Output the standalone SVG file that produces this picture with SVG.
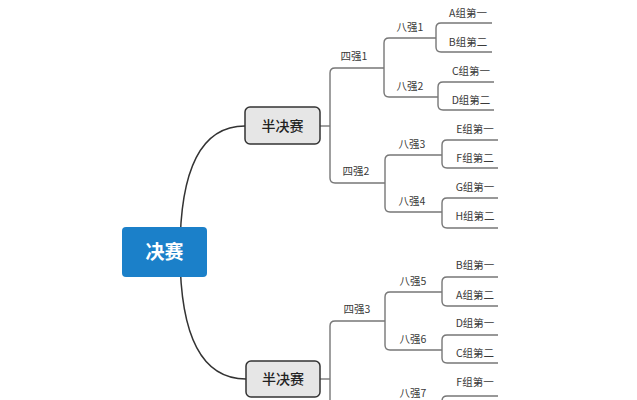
<svg xmlns="http://www.w3.org/2000/svg" width="637" height="400" viewBox="0 0 637 400">
<style>
.c{fill:none;stroke:#333;stroke-width:1.5}
.b{fill:none;stroke:#777;stroke-width:1.4}
.t{font-family:"Noto Sans CJK SC","Noto Sans",sans-serif;fill:#3a3a3a;text-anchor:middle}
.s{font-size:10.5px}
.m{font-size:14px;fill:#222;font-weight:500}
.r{font-size:19px;fill:#fff;font-weight:bold}
</style>
<rect width="637" height="400" fill="#fff"/>
<g id="connectors">
<path class="c" d="M180 252 Q180 126 245 126"/>
<path class="c" d="M180 252 Q180 379 246 379"/>
<path class="b" d="M320 126 H330"/>
<path class="b" d="M320 379 H330"/>
<path class="b" d="M384 68 H335 Q330 68 330 73 V178 Q330 183 335 183 H385"/>
<path class="b" d="M385 321 H335 Q330 321 330 326 V433 Q330 438 335 438 H385"/>
<path class="b" d="M436 38 H389 Q384 38 384 43 V92 Q384 97 389 97 H438"/>
<path class="b" d="M442 155 H390 Q385 155 385 160 V207 Q385 212 390 212 H442"/>
<path class="b" d="M442 292 H390 Q385 292 385 297 V345 Q385 350 390 350 H442"/>
<path class="b" d="M442 410 H390 Q385 410 385 415 V460"/>
<path class="b" d="M492 23 H441 Q436 23 436 28 V47 Q436 52 441 52 H492"/>
<path class="b" d="M494 82 H443 Q438 82 438 87 V105 Q438 110 443 110 H494"/>
<path class="b" d="M498 140 H447 Q442 140 442 145 V163 Q442 168 447 168 H498"/>
<path class="b" d="M498 198 H447 Q442 198 442 203 V223 Q442 228 447 228 H498"/>
<path class="b" d="M498 277 H447 Q442 277 442 282 V301 Q442 306 447 306 H498"/>
<path class="b" d="M498 335 H447 Q442 335 442 340 V358 Q442 363 447 363 H498"/>
<path class="b" d="M498 396 H447 Q442 396 442 401 V420"/>
</g>
<g id="final"><rect x="122" y="227" width="85" height="50" rx="4" fill="#1b80c9"/><text class="t r" x="164.5" y="259">决赛</text></g>
<g id="semi1"><rect x="245" y="107" width="75" height="37" rx="5" fill="#e6e6e6" stroke="#333" stroke-width="1.5"/><text class="t m" x="282.5" y="131">半决赛</text></g>
<g id="semi2"><rect x="246" y="361" width="74" height="36" rx="5" fill="#e6e6e6" stroke="#333" stroke-width="1.5"/><text class="t m" x="283" y="384">半决赛</text></g>
<g id="q1"><text class="t s" x="354" y="60">四强1</text></g>
<g id="q2"><text class="t s" x="356" y="175">四强2</text></g>
<g id="q3"><text class="t s" x="357" y="313">四强3</text></g>
<g id="e1"><text class="t s" x="410" y="31">八强1</text></g>
<g id="e2"><text class="t s" x="410" y="90">八强2</text></g>
<g id="e3"><text class="t s" x="412" y="148">八强3</text></g>
<g id="e4"><text class="t s" x="412" y="205">八强4</text></g>
<g id="e5"><text class="t s" x="413" y="285">八强5</text></g>
<g id="e6"><text class="t s" x="413" y="343">八强6</text></g>
<g id="e7"><text class="t s" x="413" y="397">八强7</text></g>
<g id="l1"><text class="t s" x="468" y="17">A组第一</text></g>
<g id="l2"><text class="t s" x="468" y="46">B组第二</text></g>
<g id="l3"><text class="t s" x="471" y="75">C组第一</text></g>
<g id="l4"><text class="t s" x="471" y="104">D组第二</text></g>
<g id="l5"><text class="t s" x="475" y="133">E组第一</text></g>
<g id="l6"><text class="t s" x="475" y="162">F组第二</text></g>
<g id="l7"><text class="t s" x="475" y="191">G组第一</text></g>
<g id="l8"><text class="t s" x="475" y="220">H组第二</text></g>
<g id="l9"><text class="t s" x="475" y="269">B组第一</text></g>
<g id="l10"><text class="t s" x="475" y="299">A组第二</text></g>
<g id="l11"><text class="t s" x="475" y="327">D组第一</text></g>
<g id="l12"><text class="t s" x="475" y="357">C组第二</text></g>
<g id="l13"><text class="t s" x="475" y="386">F组第一</text></g>
</svg>
